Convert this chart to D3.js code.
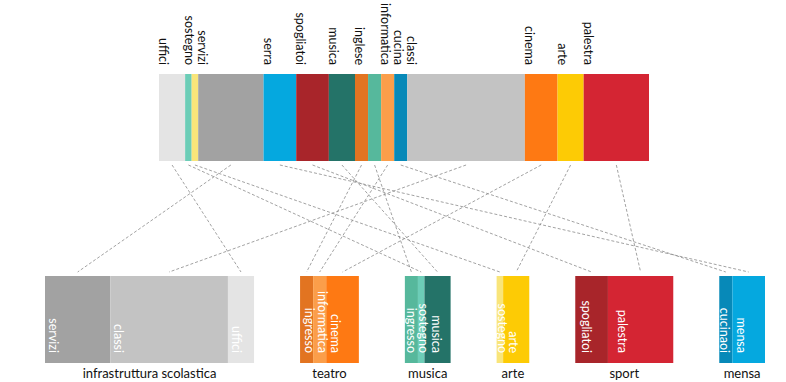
<!DOCTYPE html>
<html><head><meta charset="utf-8">
<script src="https://cdn.jsdelivr.net/npm/d3@7"></script>
<style>body{margin:0;background:#fff;} svg{display:block;font-family:Lato,"Open Sans",sans-serif;}</style>
</head><body><svg id="c" width="786" height="382"></svg>
<script>
// Top bar (order left to right)
const topLabels = ["uffici","sostegno","","servizi","serra","spogliatoi","musica","inglese","","informatica","cucina","classi","cinema","arte","palestra"];
const topValues = [4,1,1,10,5,5,4,2,2,2,2,18,5,4,10];
const topColors = ["#e4e4e4","#6ccdb7","#f9e57a","#a2a2a2","#05a8df","#a8252a","#247368","#e27421","#56b89c","#fb9e4a","#0789b8","#c3c3c3","#fe7913","#fdcb05","#d42533"];
// Which bottom item each top segment links to
const topLinks = [2,7,9,0,14,11,8,3,6,4,13,1,5,10,12];

// Bottom groups
const groupNames = ["infrastruttura scolastica","teatro","musica","arte","sport","mensa"];
const bottomGroup = [0,0,0,1,1,1,2,2,2,3,3,4,4,5,5];
const bottomLabels = ["servizi","classi","uffici","ingresso","informatica","cinema","ingresso","sostegno","musica","sostegno","arte","spogliatoi","palestra","cucinaoi","mensa"];
const bottomValues = [10,18,4,2,2,5,2,1,4,1,4,5,10,2,5];
const bottomColors = ["#a2a2a2","#c3c3c3","#e4e4e4","#e27421","#fb9e4a","#fe7913","#56b89c","#6ccdb7","#247368","#f9e57a","#fdcb05","#a8252a","#d42533","#0789b8","#05a8df"];

// layout: inner label inset from the left edge of each bottom segment
const labelInset = [4,3.5,4,5,4.5,4.5,2,1.5,7.5,1,6,7,10,0.5,4.5];

const svg = d3.select("#c");
const total = d3.sum(topValues);
const w = d3.scaleLinear().domain([0, total]).range([0, 490]);
const topX0 = 159, topY = 74, barH = 87, botY = 276, gap = 46;

let acc = 0;
const topSegs = topValues.map((v,i)=>{ const s={x:topX0+w(acc), w:w(v), i}; acc+=v; return s; });
const totalW = w(total) + gap*(groupNames.length-1);
const botX0 = 405 - totalW/2;
let cx = botX0, prevG = 0;
const botSegs = bottomValues.map((v,i)=>{
  if (bottomGroup[i]!==prevG){ cx += gap; prevG = bottomGroup[i]; }
  const s={x:cx, w:w(v), i}; cx += w(v); return s;
});

// links
svg.append("g").selectAll("line").data(topSegs).join("line")
  .attr("x1", d=>d.x+d.w/2).attr("y1", topY+barH+4)
  .attr("x2", d=>{const b=botSegs[topLinks[d.i]]; return b.x+b.w/2;}).attr("y2", botY-4)
  .attr("stroke","#8a8a8a").attr("stroke-width",0.8).attr("stroke-dasharray","3,2");

// top bar
svg.append("g").selectAll("rect").data(topSegs).join("rect")
  .attr("x",d=>d.x).attr("y",topY).attr("width",d=>d.w).attr("height",barH)
  .attr("fill",d=>topColors[d.i]);
svg.append("g").selectAll("text").data(topSegs.filter(d=>topLabels[d.i])).join("text")
  .attr("transform",d=>`translate(${d.x},65) rotate(90)`)
  .attr("text-anchor","end").attr("font-size",12.5).attr("fill","#111")
  .text(d=>topLabels[d.i]);

// bottom bars
svg.append("g").selectAll("rect").data(botSegs).join("rect")
  .attr("x",d=>d.x).attr("y",botY).attr("width",d=>d.w).attr("height",barH)
  .attr("fill",d=>bottomColors[d.i]);
svg.append("g").selectAll("text").data(botSegs).join("text")
  .attr("transform",d=>`translate(${d.x+labelInset[d.i]},353) rotate(90)`)
  .attr("text-anchor","end").attr("font-size",12.5).attr("fill","#fff")
  .text(d=>bottomLabels[d.i]);

// group labels
const groupExt = groupNames.map((g,gi)=>{
  const segs = botSegs.filter(s=>bottomGroup[s.i]===gi);
  return {name:g, cx:(segs[0].x + segs[segs.length-1].x + segs[segs.length-1].w)/2};
});
svg.append("g").selectAll("text").data(groupExt).join("text")
  .attr("x",d=>d.cx).attr("y",378).attr("text-anchor","middle")
  .attr("font-size",13).attr("fill","#111").text(d=>d.name);
</script></body></html>
